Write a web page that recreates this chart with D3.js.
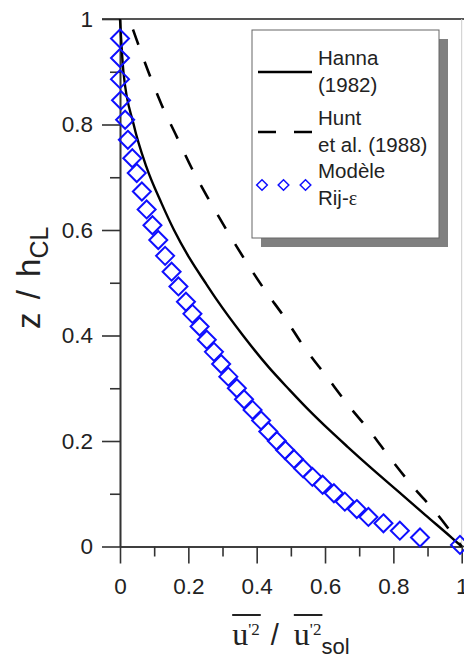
<!DOCTYPE html>
<html>
<head>
<meta charset="utf-8">
<script src="https://cdn.jsdelivr.net/npm/d3@7"></script>
<style>
  body { margin: 0; background: #fff; }
  svg { display: block; }
  text { font-family: "Liberation Sans", Arial, sans-serif; fill: #222; }
</style>
</head>
<body>
<div id="chart"></div>
<script>
// tick values
const majorTicks = [0, 0.2, 0.4, 0.6, 0.8, 1];
const minorTicks = [0.1, 0.3, 0.5, 0.7, 0.9];

// Hanna (1982), solid line
const hannaX = [0, 0.01, 0.04, 0.077, 0.122, 0.158, 0.204, 0.25, 0.284, 0.36, 0.435, 0.496, 0.552, 0.614, 0.666, 0.733, 0.815, 0.893, 0.972, 1.0];
const hannaZ = [1.0, 0.9, 0.8, 0.72, 0.65, 0.6, 0.546, 0.5, 0.467, 0.4, 0.34, 0.297, 0.259, 0.22, 0.189, 0.15, 0.104, 0.06, 0.016, 0];

// Hunt et al. (1988), dashed line
const huntX = [0.038, 0.049, 0.083, 0.122, 0.166, 0.21, 0.258, 0.312, 0.366, 0.424, 0.483, 0.541, 0.605, 0.668, 0.732, 0.795, 0.858, 0.926, 1.0];
const huntZ = [0.98, 0.96, 0.9, 0.837, 0.777, 0.717, 0.66, 0.6, 0.543, 0.486, 0.433, 0.376, 0.322, 0.268, 0.218, 0.164, 0.113, 0.063, 0];

// Modele Rij-epsilon, diamonds
const rijX = [0, 0, 0, 0.003, 0.015, 0.023, 0.036, 0.049, 0.064, 0.078, 0.095, 0.112, 0.132, 0.151, 0.171,
  0.193, 0.212, 0.233, 0.254, 0.275, 0.296, 0.317, 0.342, 0.363, 0.388, 0.413, 0.434, 0.459, 0.483, 0.509,
  0.536, 0.563, 0.593, 0.626, 0.658, 0.693, 0.727, 0.771, 0.819, 0.878, 0.995];
const rijZ = [0.963, 0.926, 0.886, 0.846, 0.809, 0.771, 0.736, 0.708, 0.673, 0.639, 0.609, 0.581, 0.551, 0.521, 0.493,
  0.464, 0.441, 0.417, 0.392, 0.369, 0.346, 0.322, 0.3, 0.279, 0.259, 0.239, 0.218, 0.2, 0.183, 0.166,
  0.148, 0.132, 0.117, 0.101, 0.085, 0.071, 0.056, 0.044, 0.03, 0.017, 0.003];

const legendLabels = [['Hanna', '(1982)'], ['Hunt', 'et al. (1988)'], ['Modèle', 'Rij-']];

const width = 464, height = 658;
const margin = { top: 19, right: 2.3, bottom: 111.5, left: 120 };

const svg = d3.select('#chart').append('svg')
    .attr('width', width)
    .attr('height', height);

const x = d3.scaleLinear().domain([0, 1]).range([margin.left, width - margin.right]);
const y = d3.scaleLinear().domain([0, 1]).range([height - margin.bottom, margin.top]);

const fmt = d => String(+d.toFixed(1));

// top frame line and faint right frame
svg.append('line')
    .attr('x1', x(0) - 18).attr('x2', width)
    .attr('y1', y(1)).attr('y2', y(1))
    .attr('stroke', '#555').attr('stroke-width', 2.2);
svg.append('line')
    .attr('x1', x(1)).attr('x2', x(1))
    .attr('y1', y(1)).attr('y2', y(0))
    .attr('stroke', '#ccc').attr('stroke-width', 1);

// axes
const styleAxis = g => {
    g.select('.domain').attr('stroke', '#333').attr('stroke-width', 1.6);
    g.selectAll('.tick line').attr('stroke', '#333').attr('stroke-width', 1.6);
    g.selectAll('.tick text').style('font-size', '22.5px').attr('fill', '#222');
};

svg.append('g')
    .attr('transform', `translate(${x(0)},0)`)
    .call(d3.axisLeft(y).tickValues(minorTicks).tickSize(10).tickSizeOuter(0).tickFormat(''))
    .call(styleAxis);
svg.append('g')
    .attr('transform', `translate(${x(0)},0)`)
    .call(d3.axisLeft(y).tickValues(majorTicks).tickSize(18).tickSizeOuter(0).tickPadding(9).tickFormat(fmt))
    .call(styleAxis);

svg.append('g')
    .attr('transform', `translate(0,${y(0)})`)
    .call(d3.axisBottom(x).tickValues(minorTicks).tickSize(10).tickSizeOuter(0).tickFormat(''))
    .call(styleAxis);
svg.append('g')
    .attr('transform', `translate(0,${y(0)})`)
    .call(d3.axisBottom(x).tickValues(majorTicks).tickSize(17).tickSizeOuter(0).tickPadding(15).tickFormat(fmt))
    .call(styleAxis);
svg.append('line')
    .attr('x1', x(1)).attr('x2', width)
    .attr('y1', y(0)).attr('y2', y(0))
    .attr('stroke', '#333').attr('stroke-width', 1.6);

// curves
const line = d3.line()
    .x(d => x(d[0]))
    .y(d => y(d[1]))
    .curve(d3.curveMonotoneX);

svg.append('path')
    .datum(hannaX.map((v, i) => [v, hannaZ[i]]))
    .attr('d', line)
    .attr('fill', 'none')
    .attr('stroke', '#000')
    .attr('stroke-width', 2.4);

svg.append('path')
    .datum(huntX.map((v, i) => [v, huntZ[i]]))
    .attr('d', line)
    .attr('fill', 'none')
    .attr('stroke', '#000')
    .attr('stroke-width', 2.6)
    .attr('stroke-dasharray', '16,18');

const diamond = r => d3.symbol().type(d3.symbolDiamond2).size((r / 0.62625) ** 2)();

svg.append('g')
    .selectAll('path')
    .data(rijX.map((v, i) => [v, rijZ[i]]))
    .enter().append('path')
    .attr('transform', d => `translate(${x(d[0])},${y(d[1])})`)
    .attr('d', diamond(9))
    .attr('fill', 'none')
    .attr('stroke', '#0f0fff')
    .attr('stroke-width', 2);

// legend
const lg = svg.append('g').attr('transform', 'translate(252,30)');
lg.append('rect')
    .attr('x', 9).attr('y', 9)
    .attr('width', 187).attr('height', 208)
    .attr('fill', '#808080');
lg.append('rect')
    .attr('width', 187).attr('height', 208)
    .attr('fill', '#fff')
    .attr('stroke', '#666').attr('stroke-width', 1);

const rowY = [42, 102, 155];
lg.append('line')
    .attr('x1', 6).attr('x2', 60).attr('y1', rowY[0]).attr('y2', rowY[0])
    .attr('stroke', '#000').attr('stroke-width', 2.4);
lg.append('line')
    .attr('x1', 6).attr('x2', 60).attr('y1', rowY[1]).attr('y2', rowY[1])
    .attr('stroke', '#000').attr('stroke-width', 2.6)
    .attr('stroke-dasharray', '18,18');
lg.selectAll('.ld')
    .data([10, 31.5, 53.5])
    .enter().append('path')
    .attr('class', 'ld')
    .attr('transform', d => `translate(${d},${rowY[2]})`)
    .attr('d', diamond(5.3))
    .attr('fill', 'none')
    .attr('stroke', '#0f0fff')
    .attr('stroke-width', 1.5);

legendLabels.forEach((lab, i) => {
    const t = lg.append('text')
        .attr('x', 66)
        .attr('y', rowY[i] - 7)
        .style('font-size', '20.5px');
    t.append('tspan').attr('x', 66).text(lab[0]);
    const t2 = t.append('tspan').attr('x', 66).attr('dy', 27).text(lab[1]);
    if (i === 2) {
        t2.append('tspan')
            .style('font-family', '"Liberation Serif", "Times New Roman", serif')
            .style('font-size', '20px')
            .text('ε');
    }
});

// y title
const yt = svg.append('text')
    .attr('transform', `translate(40,${y(0.5) - 5}) rotate(-90)`)
    .attr('text-anchor', 'middle')
    .style('font-size', '33px')
    .style('word-spacing', '4px');
yt.append('tspan').text('z / h');
yt.append('tspan').attr('dy', 8).style('font-size', '25px').text('CL');

// x title, built piece by piece so the overlines can sit over u'2
const xt = svg.append('g');
const serif = '"Liberation Serif", "Times New Roman", serif';
const parts = [
    { s: 'u', font: serif, size: 32, dy: 0, bar: true },
    { s: '\'2', font: serif, size: 17, dy: -10, bar: true },
    { s: '/', font: null, size: 29, dy: 0, gapL: 11, gapR: 15 },
    { s: 'u', font: serif, size: 32, dy: 0, bar: true },
    { s: '\'2', font: serif, size: 17, dy: -10, bar: true },
    { s: 'sol', font: null, size: 22, dy: 9 }
];
let cx = 0;
const bars = [];
parts.forEach(p => {
    cx += p.gapL || 0;
    const t = xt.append('text')
        .attr('x', cx).attr('y', p.dy)
        .style('font-size', p.size + 'px')
        .text(p.s);
    if (p.font) t.style('font-family', p.font);
    const w = t.node().getComputedTextLength();
    if (p.bar) bars.push([cx, cx + w]);
    cx += w + (p.gapR || 0);
});
[[bars[0][0], bars[1][1]], [bars[2][0], bars[3][1]]].forEach(b => {
    xt.append('line')
        .attr('x1', b[0]).attr('x2', b[1] + 1)
        .attr('y1', -30).attr('y2', -30)
        .attr('stroke', '#222').attr('stroke-width', 2);
});
xt.attr('transform', `translate(${(x(0) + x(1)) / 2 - cx / 2},645)`);
</script>
</body>
</html>
